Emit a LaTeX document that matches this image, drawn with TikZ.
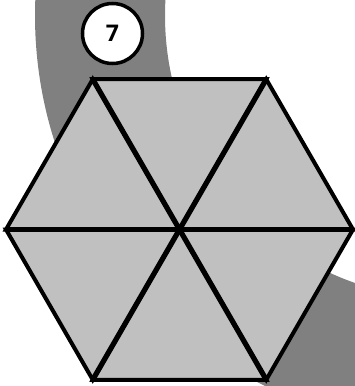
\documentclass[tikz,border=0pt]{standalone}
\usepackage{fontspec}
\setmainfont{Open Sans}
\usetikzlibrary{calc}
\definecolor{bandgray}{HTML}{808080}
\definecolor{trigray}{HTML}{C0C0C0}
\begin{document}
\begin{tikzpicture}[x=1pt,y=-1pt,
  tri/.style={fill=trigray,draw=black,line width=4pt,line join=miter},
  spoke/.style={draw=black,line width=5.2pt,line cap=butt},
  numcirc/.style={circle,draw=black,fill=white,line width=3.5pt,minimum size=60pt,inner sep=0pt,font=\fontsize{23}{23}\selectfont\bfseries}]
\useasboundingbox (0,0) rectangle (355,386);
\begin{scope}
\clip (0,0) rectangle (355,386);
\fill[bandgray,even odd rule] (448,15.6) circle[radius=413] (448,15.6) circle[radius=283];
\end{scope}
\coordinate (O) at (179.5,229.5);
\foreach \i in {0,...,5}{
  \coordinate (V\i) at ($(O)+({60*\i}:173.5)$);
}
\foreach \i/\j in {0/1,1/2,2/3,3/4,4/5,5/0}{
  \draw[tri] (O) -- (V\i) -- (V\j) -- cycle;
}
\begin{scope}
\clip (V0) -- (V1) -- (V2) -- (V3) -- (V4) -- (V5) -- cycle;
\foreach \i in {0,...,5}{
  \draw[spoke] (O) -- (V\i);
}
\end{scope}
\node[numcirc] (seven) at (112.5,33.5) {7};
\end{tikzpicture}
\end{document}
